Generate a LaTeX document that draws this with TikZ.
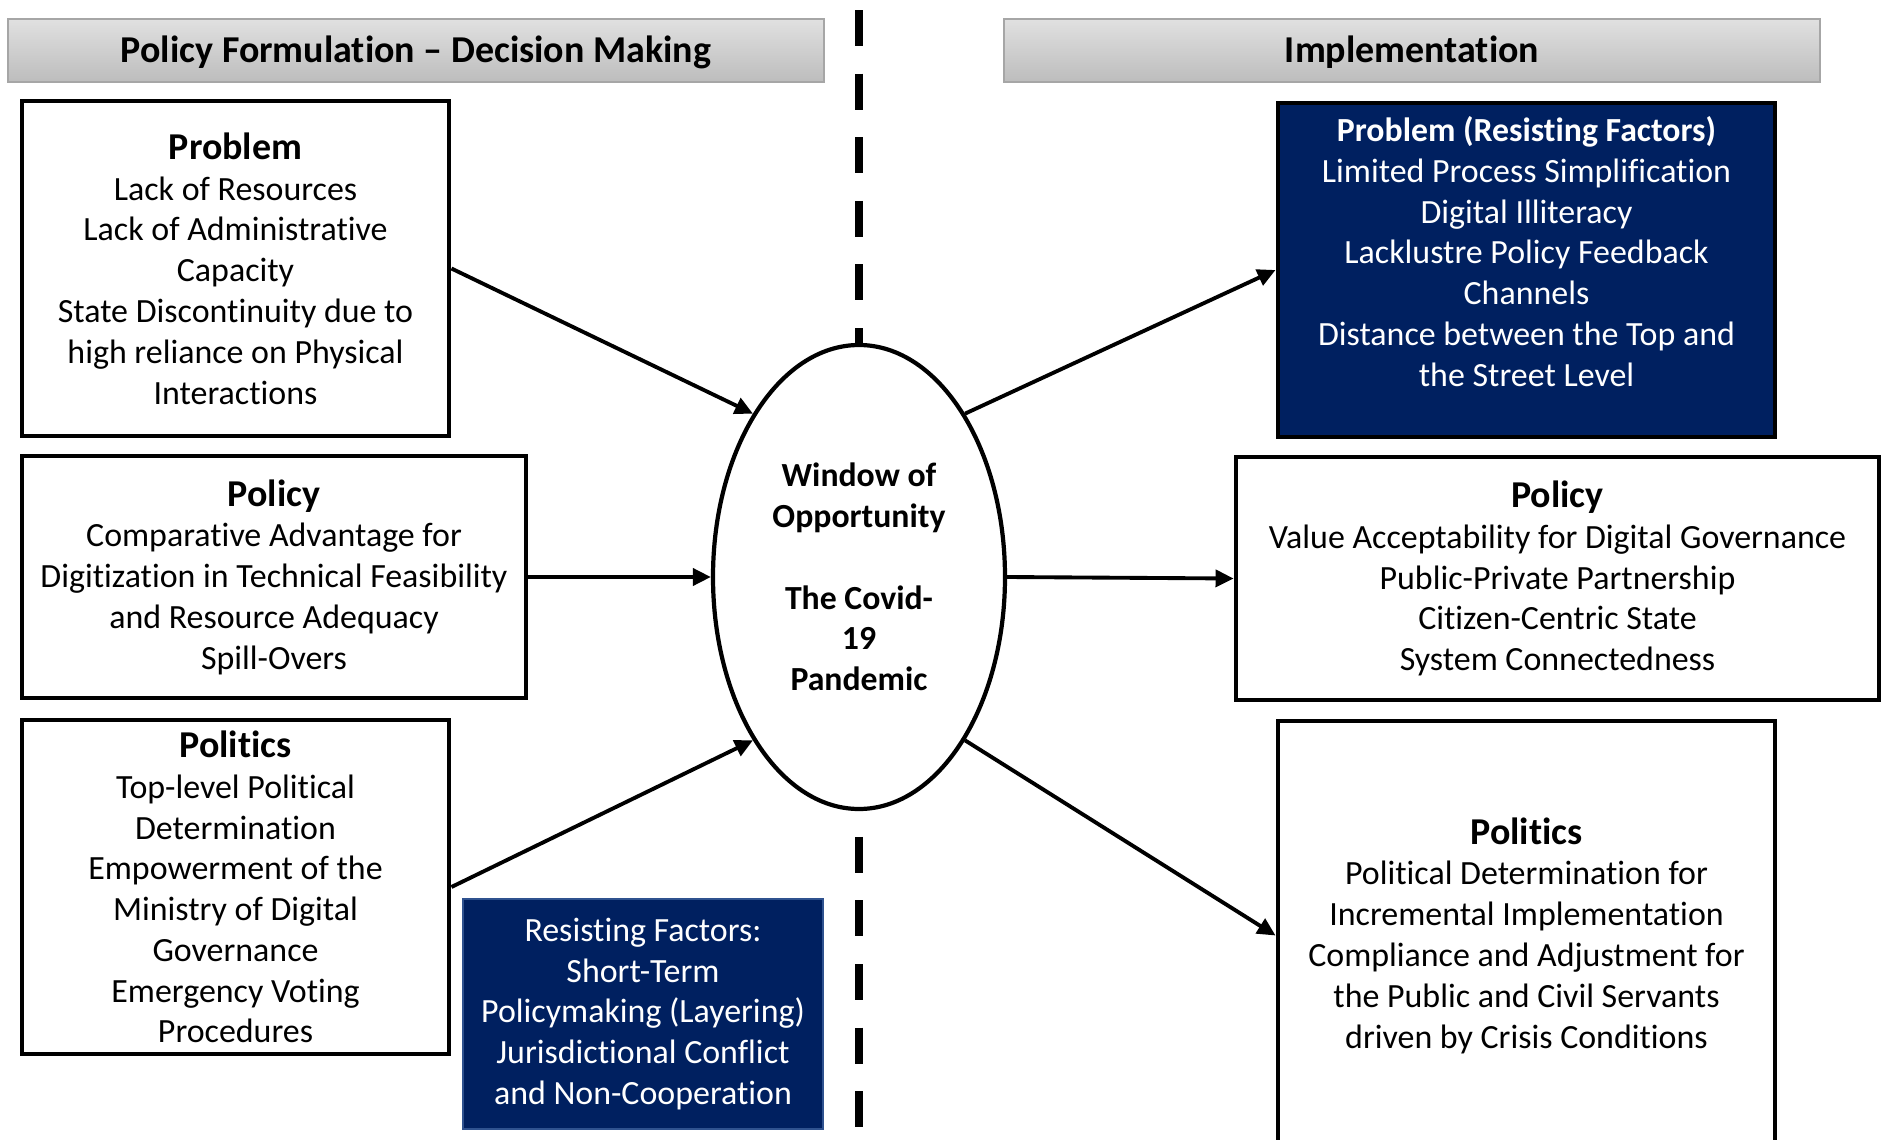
\documentclass[tikz,border=0pt]{standalone}
\usepackage{fontspec}
\setmainfont{Carlito}[Ligatures={TeX,NoCommon}]
\usetikzlibrary{arrows.meta, shapes.geometric}
\definecolor{navyfill}{RGB}{0,32,96}
\definecolor{navyedge}{RGB}{47,82,143}
\newcommand{\boxhead}[1]{{\fontsize{10.8}{11.6}\selectfont\bfseries #1}}

\begin{document}
\begin{tikzpicture}[>={Triangle[length=0.18cm, width=0.17cm]},
  header/.style={draw=gray!70, line width=0.3pt, top color=black!12,
    bottom color=black!26, minimum width=8.16cm, minimum height=0.63cm,
    text depth=0.15ex, font=\fontsize{10.8}{13}\selectfont\bfseries},
  box/.style={draw, line width=1.4pt, fill=white, align=center,
    inner sep=0pt, font=\fontsize{9.65}{11.6}\selectfont},
  darkbox/.style={box, fill=navyfill, text=white},
  link/.style={->, line width=1.1pt}]
  \useasboundingbox (0,0) rectangle (18.81,11.39);

  % Column headers
  \node[header] (hleft) at (4.16,10.885) {Policy Formulation – Decision Making};
  \node[header] (hright) at (14.12,10.885) {Implementation};

  % Divider between the two stages
  \draw[line width=0.08cm, dash pattern=on 0.36cm off 0.276cm]
    (8.59,11.29) -- (8.59,0.10);

  % Window of opportunity
  \node[ellipse, draw, line width=1.2pt, fill=white, minimum width=2.92cm,
    minimum height=4.64cm, inner sep=0pt, align=center,
    font=\fontsize{9.6}{11.6}\selectfont\bfseries] (win) at (8.59,5.62)
    {Window of\\Opportunity\\[11.6pt]The Covid-\\19\\Pandemic};

  % Formulation side
  \node[box, minimum width=4.27cm, minimum height=3.35cm] (lprob) at (2.355,8.705)
    {\boxhead{Problem}\\Lack of Resources\\Lack of Administrative\\Capacity\\
     State Discontinuity due to\\high reliance on Physical\\Interactions};
  \node[box, minimum width=5.04cm, minimum height=2.42cm] (lpol) at (2.74,5.62)
    {\boxhead{Policy}\\Comparative Advantage for\\Digitization in Technical Feasibility\\
     and Resource Adequacy\\Spill-Overs};
  \node[box, minimum width=4.27cm, minimum height=3.34cm] (lpolit) at (2.355,2.52)
    {\boxhead{Politics}\\Top-level Political\\Determination\\Empowerment of the\\
     Ministry of Digital\\Governance\\Emergency Voting\\Procedures};
  \node[darkbox, draw=navyedge, line width=0.6pt, minimum width=3.6cm,
    minimum height=2.3cm] (resist) at (6.43,1.25)
    {Resisting Factors:\\Short-Term\\Policymaking (Layering)\\
     Jurisdictional Conflict\\and Non-Cooperation};

  % Implementation side
  \node[darkbox, minimum width=4.97cm, minimum height=3.34cm] (rprob) at (15.265,8.69) {};
  \node[align=center, text=white, inner sep=0pt, font=\fontsize{9.65}{11.6}\selectfont]
    (rprobtext) at ([yshift=0.186cm]rprob.center)
    {{\fontsize{9.6}{11.6}\selectfont\bfseries Problem (Resisting Factors)}\\
     Limited Process Simplification\\Digital Illiteracy\\Lacklustre Policy Feedback\\
     Channels\\Distance between the Top and\\the Street Level};
  \node[box, minimum width=6.43cm, minimum height=2.43cm] (rpol) at (15.575,5.605)
    {\boxhead{Policy}\\Value Acceptability for Digital Governance\\
     Public-Private Partnership\\Citizen-Centric State\\System Connectedness};
  \node[box, minimum width=4.97cm, minimum height=4.29cm] (rpolit) at (15.265,2.035)
    {\boxhead{Politics}\\Political Determination for\\Incremental Implementation\\
     Compliance and Adjustment for\\the Public and Civil Servants\\
     driven by Crisis Conditions};

  % Streams into the window
  \draw[link] (lprob.east) -- (win.123);
  \draw[link] (lpol.east) -- (win.west);
  \draw[link] (lpolit.east) -- (win.237);

  % Streams out of the window
  \draw[link] (win.57) -- (rprob.west);
  \draw[link] (win.east) -- (rpol.west);
  \draw[link] (win.303) -- (rpolit.west);
\end{tikzpicture}
\end{document}
